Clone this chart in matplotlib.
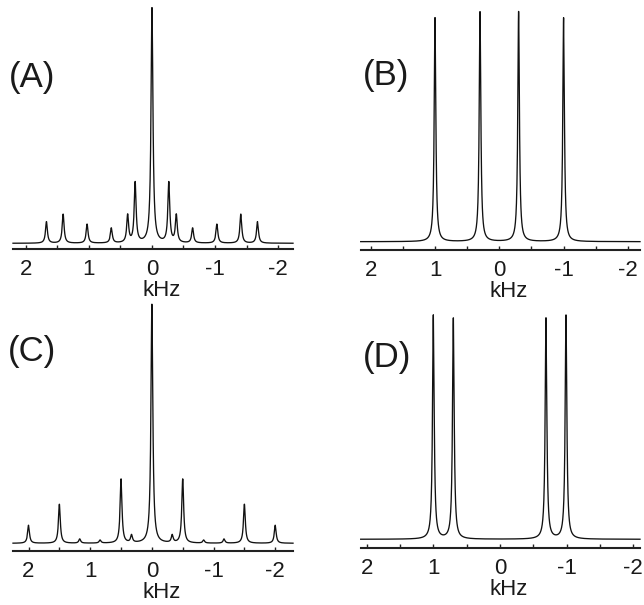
import numpy as np
import matplotlib
matplotlib.use("Agg")
import matplotlib.pyplot as plt
from matplotlib.ticker import FixedLocator

plt.rcParams['font.family'] = ['Liberation Sans', 'DejaVu Sans']
plt.rcParams['axes.unicode_minus'] = False

# ---- data: peak positions (kHz) and apparent intensities
pos_A = [1.675, 1.41, 1.03, 0.645, 0.386, 0.267, 0.0, -0.267, -0.386, -0.645, -1.03, -1.41, -1.675]
amp_A = [21.5, 29.0, 19.0, 15.0, 27.5, 60.0, 235.0, 60.0, 27.5, 15.0, 19.0, 29.0, 21.5]
pos_B = [1.0, 0.30, -0.30, -1.0]
amp_B = [224.0, 230.0, 230.0, 224.0]
pos_C = [2.0, 1.5, 1.17, 0.84, 0.5, 0.33, 0.0, -0.33, -0.5, -0.84, -1.17, -1.5, -2.0]
amp_C = [18.0, 39.0, 4.2, 3.0, 64.0, 7.5, 239.0, 7.5, 64.0, 3.0, 4.2, 39.0, 18.0]
pos_D = [1.0, 0.70, -0.69, -0.99]
amp_D = [224.0, 221.0, 221.0, 224.0]
width_A, width_B, width_C, width_D = 0.018, 0.015, 0.018, 0.015   # Lorentzian half-widths (kHz)

labels = ['(A)', '(B)', '(C)', '(D)']
major_ticks = [2, 1, 0, -1, -2]
major_labels = ['2', '1', '0', '-1', '-2']
minor_ticks = [1.5, 0.5, -0.5, -1.5]
xlabel = 'kHz'

W, H = 644, 605
fig = plt.figure(figsize=(W / 100, H / 100), dpi=100)

# layout in pixels: left, right, axis-line y, baseline y, top y, xlim
panels = [
    dict(pos=pos_A, amp=amp_A, w=width_A, left=13, right=293, axy=249, base=243.3, top=5, xlim=(2.206, -2.238), lab=(32, 77)),
    dict(pos=pos_B, amp=amp_B, w=width_B, left=360.7, right=640, axy=250, base=241.7, top=5, xlim=(2.156, -2.188), lab=(386, 76)),
    dict(pos=pos_C, amp=amp_C, w=width_C, left=13, right=293, axy=550.7, base=543.3, top=300, xlim=(2.252, -2.288), lab=(32, 352)),
    dict(pos=pos_D, amp=amp_D, w=width_D, left=360.7, right=640, axy=547.7, base=539.3, top=300, xlim=(2.09, -2.10), lab=(387, 357)),
]

for p, lab in zip(panels, labels):
    ax = fig.add_axes([p['left'] / W, 1 - p['axy'] / H, (p['right'] - p['left']) / W, (p['axy'] - p['top']) / H])
    lo, hi = p['xlim']
    x = np.linspace(hi, lo, 4000)
    y = np.zeros_like(x)
    for c, a in zip(p['pos'], p['amp']):
        y += a * p['w'] ** 2 / ((x - c) ** 2 + p['w'] ** 2)
    ax.plot(x, y, color='#111111', lw=0.95, clip_on=False)
    ax.set_xlim(lo, hi)
    ax.set_ylim(-(p['axy'] - p['base']), p['base'] - p['top'])
    for s in ['left', 'right', 'top']:
        ax.spines[s].set_visible(False)
    ax.spines['bottom'].set_linewidth(1.5)
    ax.spines['bottom'].set_color('#222222')
    ax.set_yticks([])
    ax.xaxis.set_major_locator(FixedLocator(major_ticks))
    ax.set_xticklabels(major_labels)
    ax.xaxis.set_minor_locator(FixedLocator(minor_ticks))
    ax.tick_params(axis='x', which='both', direction='in', length=3, width=1, color='#222222',
                   labelsize=16, pad=7.5, labelcolor='#1a1a1a')
    ax.set_xlabel(xlabel, fontsize=16, labelpad=0, color='#1a1a1a')
    ax.xaxis.label.set_x(0.53)
    ax.patch.set_alpha(0)
    fig.text(p['lab'][0] / W, 1 - p['lab'][1] / H, lab, fontsize=25, ha='center', va='center',
             color='#1a1a1a')

fig.savefig('out.png', dpi=100)
